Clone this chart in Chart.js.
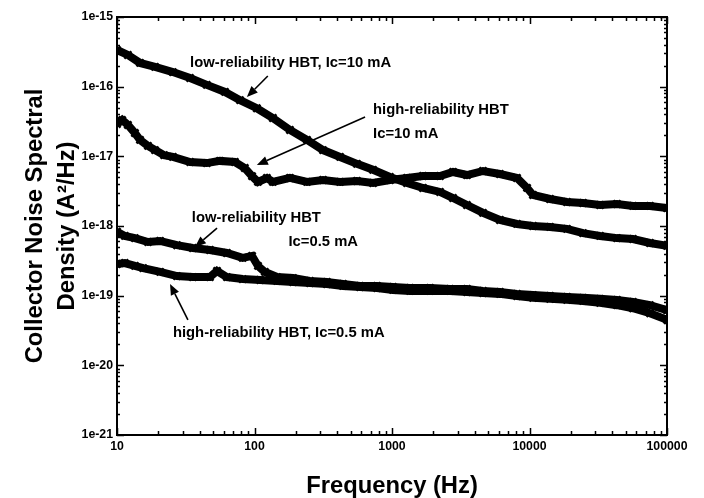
<!DOCTYPE html>
<html>
<head>
<meta charset="utf-8">
<script src="https://cdn.jsdelivr.net/npm/chart.js@4/dist/chart.umd.min.js"></script>
<style>
html,body{margin:0;padding:0;background:#fff;}
#wrap{width:704px;height:498px;}
</style>
</head>
<body>
<div id="wrap"><canvas id="c" width="704" height="498"></canvas></div>
<script>
// ---------------- data ----------------
const lowRel10Freq = [10,12,14.7,18.9,25.5,34,45,61,78.5,104,136,181,241,315,419,556,728,966,1285,1680,2234,2780,3510,4590,6095,8110,10600,14100,18740,24500,32600,43300,56600,75200,100000];
const lowRel10Psd  = [3.36e-16,2.85e-16,2.19e-16,1.92e-16,1.62e-16,1.33e-16,1.06e-16,8.4e-17,6.4e-17,4.9e-17,3.55e-17,2.39e-17,1.72e-17,1.23e-17,9.8e-18,7.8e-18,6.4e-18,5.05e-18,4.14e-18,3.51e-18,3.08e-18,2.52e-18,2.0e-18,1.54e-18,1.22e-18,1.07e-18,1.0e-18,9.7e-19,9.1e-19,7.9e-19,7.2e-19,6.7e-19,6.5e-19,5.7e-19,5.2e-19];

const highRel10Freq = [10,10.9,12,13.5,14.7,16.8,18.9,22,25.5,34,45,56,72,85,96,106,123,136,181,241,315,419,556,728,966,1285,1680,2234,2780,3510,4590,6095,8110,9600,10600,14100,18740,24500,32600,43300,56600,75200,100000];
const highRel10Psd  = [2.91e-17,3.32e-17,2.82e-17,2.16e-17,1.72e-17,1.41e-17,1.23e-17,1.04e-17,9.8e-18,8.3e-18,8.0e-18,8.6e-18,8.3e-18,6.8e-18,5.2e-18,4.29e-18,4.89e-18,4.29e-18,4.89e-18,4.29e-18,4.57e-18,4.29e-18,4.43e-18,4.14e-18,4.57e-18,4.89e-18,5.22e-18,5.22e-18,5.96e-18,5.39e-18,6.16e-18,5.57e-18,4.89e-18,3.52e-18,2.79e-18,2.44e-18,2.21e-18,2.14e-18,2.0e-18,2.07e-18,1.94e-18,1.94e-18,1.81e-18];

const lowRel05Freq = [10,11.4,13.5,16.8,20.6,27.3,35.6,47.4,63,82,96,106,119,146,191,253,336,440,585,778,1016,1352,1890,2641,3510,4590,6095,8110,10600,14100,18740,24500,32600,43300,56600,75200,100000];
const lowRel05Psd  = [8.3e-19,7.2e-19,6.7e-19,5.9e-19,6.1e-19,5.3e-19,4.83e-19,4.53e-19,4.1e-19,3.48e-19,3.72e-19,2.67e-19,2.19e-19,1.85e-19,1.79e-19,1.63e-19,1.57e-19,1.47e-19,1.38e-19,1.38e-19,1.33e-19,1.29e-19,1.29e-19,1.25e-19,1.25e-19,1.17e-19,1.13e-19,1.06e-19,1.02e-19,9.9e-20,9.6e-20,9.3e-20,9.0e-20,8.7e-20,8.1e-20,7.3e-20,6.2e-20];

const highRel05Freq = [10,11.4,13.5,15.5,20.6,27.3,35.6,47.4,53.4,63,82,110,146,191,253,336,440,585,778,1016,1352,1890,2641,3510,4590,6095,8110,10600,14100,18740,24500,32600,43300,56600,75200,100000];
const highRel05Psd  = [2.85e-19,2.94e-19,2.67e-19,2.49e-19,2.19e-19,1.91e-19,1.85e-19,1.85e-19,2.26e-19,1.85e-19,1.73e-19,1.68e-19,1.63e-19,1.57e-19,1.52e-19,1.47e-19,1.38e-19,1.33e-19,1.29e-19,1.21e-19,1.17e-19,1.17e-19,1.17e-19,1.13e-19,1.09e-19,1.06e-19,9.9e-20,9.3e-20,9.0e-20,8.7e-20,8.4e-20,7.9e-20,7.3e-20,6.6e-20,5.6e-20,4.5e-20];

const xTickValues = [10,100,1000,10000,100000];
const xTickLabels = ['10','100','1000','10000','100000'];
const yTickValues = [1e-21,1e-20,1e-19,1e-18,1e-17,1e-16,1e-15];
const yTickLabels = ['1e-21','1e-20','1e-19','1e-18','1e-17','1e-16','1e-15'];

const xTitle = 'Frequency (Hz)';
const yTitle = ['Collector Noise Spectral','Density (A\u00B2/Hz)'];

// annotation texts anchored in data coordinates
const noteTexts = [
  {text:'low-reliability HBT, Ic=10 mA', f:34, v:2.19e-16, align:'left'},
  {text:'high-reliability HBT', f:728, v:4.6e-17, align:'left'},
  {text:'Ic=10 mA', f:728, v:2.1e-17, align:'left'},
  {text:'low-reliability HBT', f:35, v:1.30e-18, align:'left'},
  {text:'Ic=0.5 mA', f:566, v:5.9e-19, align:'right'},
  {text:'high-reliability HBT, Ic=0.5 mA', f:25.5, v:2.91e-20, align:'left'}
];
const noteArrows = [
  {f1:125, v1:1.42e-16, f2:88, v2:7.1e-17},
  {f1:637, v1:3.67e-17, f2:104, v2:7.5e-18},
  {f1:53.4, v1:9.35e-19, f2:36.9, v2:5.0e-19},
  {f1:32.8, v1:4.48e-20, f2:24.3, v2:1.47e-19}
];

// ---------------- fonts ----------------
function hasFont(name){
  const c=document.createElement('canvas').getContext('2d');
  const s='abcdefghijklmnopqrstuvwxyzABCDEFGHIJ0123456789';
  c.font='bold 40px monospace'; const a=c.measureText(s).width;
  c.font='bold 40px "'+name+'", monospace'; const b=c.measureText(s).width;
  c.font='bold 40px serif'; const a2=c.measureText(s).width;
  c.font='bold 40px "'+name+'", serif'; const b2=c.measureText(s).width;
  return a!==b || a2!==b2;
}
const NARROW = hasFont('Liberation Sans Narrow');
const FAM = NARROW ? '"Liberation Sans Narrow", "Liberation Sans", Arial, sans-serif' : '"Liberation Sans", Arial, sans-serif';
const K = NARROW ? 1 : 0.82;

function pts(fs, vs){ return fs.map((f,i)=>({x:f, y:vs[i]})); }
function ds(label, fs, vs){
  return {
    label, data: pts(fs, vs), showLine: true,
    borderColor:'#000', backgroundColor:'#000', borderWidth:8,
    pointStyle:'crossRot', pointRadius:5, pointBorderWidth:2.5,
    pointBorderColor:'#000', pointBackgroundColor:'#000', tension:0
  };
}

const framePlugin = {
  id:'frame',
  afterDatasetsDraw(chart){
    const {ctx, chartArea:a, scales:{x, y}} = chart;
    ctx.save();
    ctx.strokeStyle='#000'; ctx.lineWidth=2;
    ctx.strokeRect(a.left, a.top, a.right-a.left, a.bottom-a.top);
    ctx.lineWidth=1.5;
    ctx.beginPath();
    for (let k=0;k<xTickValues.length;k++){
      const base = xTickValues[k];
      for (let m=1;m<10;m++){
        const val = base*m; if (val>x.max*1.0001) break;
        const px = Math.round(x.getPixelForValue(val))+0.5;
        const L = m===1?7:4;
        ctx.moveTo(px,a.bottom); ctx.lineTo(px,a.bottom-L);
        ctx.moveTo(px,a.top); ctx.lineTo(px,a.top+L);
      }
    }
    for (let k=0;k<yTickValues.length;k++){
      const base = yTickValues[k];
      for (let m=1;m<10;m++){
        const val = base*m; if (val>y.max*1.0001) break;
        const py = Math.round(y.getPixelForValue(val))+0.5;
        const L = m===1?7:3;
        ctx.moveTo(a.left,py); ctx.lineTo(a.left+L,py);
        ctx.moveTo(a.right,py); ctx.lineTo(a.right-L,py);
      }
    }
    ctx.stroke();

    ctx.fillStyle='#000';
    ctx.font='bold '+(18*K).toFixed(1)+'px '+FAM;
    ctx.textBaseline='middle';
    noteTexts.forEach(n=>{
      ctx.textAlign=n.align;
      ctx.fillText(n.text, x.getPixelForValue(n.f), y.getPixelForValue(n.v));
    });
    ctx.lineWidth=1.6;
    noteArrows.forEach(ar=>{
      const x1=x.getPixelForValue(ar.f1), y1=y.getPixelForValue(ar.v1);
      const x2=x.getPixelForValue(ar.f2), y2=y.getPixelForValue(ar.v2);
      const ang=Math.atan2(y2-y1,x2-x1), hl=11, hw=4.5;
      const bx=x2-hl*Math.cos(ang), by=y2-hl*Math.sin(ang);
      ctx.beginPath(); ctx.moveTo(x1,y1); ctx.lineTo(bx,by); ctx.stroke();
      ctx.beginPath();
      ctx.moveTo(x2,y2);
      ctx.lineTo(bx+hw*Math.sin(ang), by-hw*Math.cos(ang));
      ctx.lineTo(bx-hw*Math.sin(ang), by+hw*Math.cos(ang));
      ctx.closePath(); ctx.fill();
    });
    ctx.restore();
  }
};

new Chart(document.getElementById('c'), {
  type:'scatter',
  data:{datasets:[
    ds('low-reliability HBT, Ic=10 mA', lowRel10Freq, lowRel10Psd),
    ds('high-reliability HBT, Ic=10 mA', highRel10Freq, highRel10Psd),
    ds('low-reliability HBT, Ic=0.5 mA', lowRel05Freq, lowRel05Psd),
    ds('high-reliability HBT, Ic=0.5 mA', highRel05Freq, highRel05Psd)
  ]},
  options:{
    responsive:false, animation:false, devicePixelRatio:1,
    layout:{padding:{left:0, top:17, right:37, bottom:0}},
    plugins:{legend:{display:false}, tooltip:{enabled:false}},
    scales:{
      x:{
        type:'logarithmic', min:10, max:100000,
        grid:{display:false, drawTicks:false}, border:{display:false},
        afterBuildTicks(s){ s.ticks = xTickValues.map(v=>({value:v})); },
        afterFit(s){ s.height = 63; },
        ticks:{color:'#000', padding:4, maxRotation:0, autoSkip:false,
          font:{family:FAM, size:15*K, weight:'bold'},
          callback(v){ const i=xTickValues.indexOf(v); return i>=0?xTickLabels[i]:''; }},
        title:{display:true, text:xTitle, color:'#000',
          font:{family:FAM, size:29*K, weight:'bold', lineHeight:1}, padding:{top:0,bottom:0}}
      },
      y:{
        type:'logarithmic', min:1e-21, max:1e-15,
        grid:{display:false, drawTicks:false}, border:{display:false},
        afterBuildTicks(s){ s.ticks = yTickValues.map(v=>({value:v})); },
        afterFit(s){ s.width = 117; },
        ticks:{color:'#000', padding:4, autoSkip:false,
          font:{family:FAM, size:15*K, weight:'bold'},
          callback(v){ const i=yTickValues.findIndex(t=>Math.abs(Math.log10(t)-Math.log10(v))<1e-6); return i>=0?yTickLabels[i]:''; }},
        title:{display:true, text:yTitle, color:'#000',
          font:{family:FAM, size:29*K, weight:'bold', lineHeight:32/(29*K)}, padding:{top:19,bottom:0}}
      }
    }
  },
  plugins:[framePlugin]
});
</script>
</body>
</html>
